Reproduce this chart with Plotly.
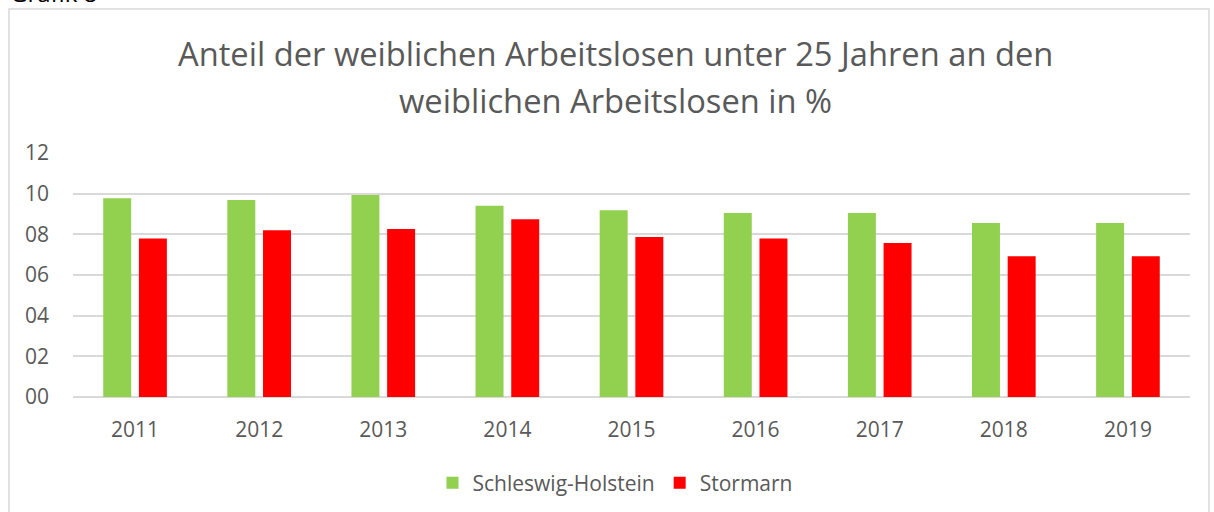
import plotly.graph_objects as go

years = ["2011", "2012", "2013", "2014", "2015", "2016", "2017", "2018", "2019"]
schleswig_holstein = [9.77, 9.69, 9.94, 9.41, 9.18, 9.05, 9.05, 8.56, 8.56]
stormarn = [7.80, 8.20, 8.26, 8.74, 7.87, 7.80, 7.57, 6.92, 6.92]
y_ticks = [0, 2, 4, 6, 8, 10, 12]
title_lines = ["Anteil der weiblichen Arbeitslosen unter 25 Jahren an den",
               "weiblichen Arbeitslosen in %"]

W, H = 1214, 512
L, R, T, B = 73, 24, 153, 115
pw, ph = W - L - R, H - T - B

def px(x):
    return (x - L) / pw

def py(y):
    return (H - B - y) / ph

FONT = "'Open Sans', Lato, sans-serif"
GREY = "#595959"

fig = go.Figure()
fig.add_trace(go.Bar(x=years, y=schleswig_holstein, name="Schleswig-Holstein",
                     marker=dict(color="#92d050", line=dict(width=0))))
fig.add_trace(go.Bar(x=years, y=stormarn, name="Stormarn",
                     marker=dict(color="#ff0000", line=dict(width=0))))

fig.update_layout(
    width=W, height=H,
    margin=dict(l=L, r=R, t=T, b=B, autoexpand=False),
    paper_bgcolor="white", plot_bgcolor="white",
    barmode="group", bargap=0.425, bargroupgap=0.216,
    font=dict(family=FONT, color=GREY, size=21),
    showlegend=True,
    legend=dict(orientation="h", xref="container", x=615 / W, xanchor="center",
                yref="container", y=1 - 483 / H, yanchor="middle",
                font=dict(size=21, color=GREY), itemwidth=30, traceorder="normal"),
    xaxis=dict(showgrid=False, showline=False, ticks="", ticklabelstandoff=18,
               tickfont=dict(size=21, color=GREY)),
    yaxis=dict(range=[0, 12], tickvals=y_ticks, tickformat="02d",
               showgrid=True, gridcolor="#d9d9d9", gridwidth=1.5,
               zeroline=True, zerolinecolor="#d9d9d9", zerolinewidth=1.5,
               showline=False, ticks="", ticklabelstandoff=23,
               tickfont=dict(size=21, color=GREY)),
)

fig.add_shape(type="rect", xref="paper", yref="paper",
              x0=px(9), x1=px(1209), y0=py(530), y1=py(9),
              line=dict(color="#d9d9d9", width=1.5), fillcolor="rgba(0,0,0,0)", layer="below")

for line, ypix in zip(title_lines, [53, 100]):
    fig.add_annotation(text=line, xref="paper", yref="paper", x=px(615), y=py(ypix),
                       xanchor="center", yanchor="middle", showarrow=False,
                       font=dict(size=32.7, color=GREY, family=FONT))

fig.add_annotation(text="Grafik 8", xref="paper", yref="paper", x=px(8), y=py(-8),
                   xanchor="left", yanchor="middle", showarrow=False,
                   font=dict(size=24, color="#000000", family=FONT))

fig.write_html("out.html", config={"displayModeBar": False},
               post_script="document.body.style.margin='0';")
